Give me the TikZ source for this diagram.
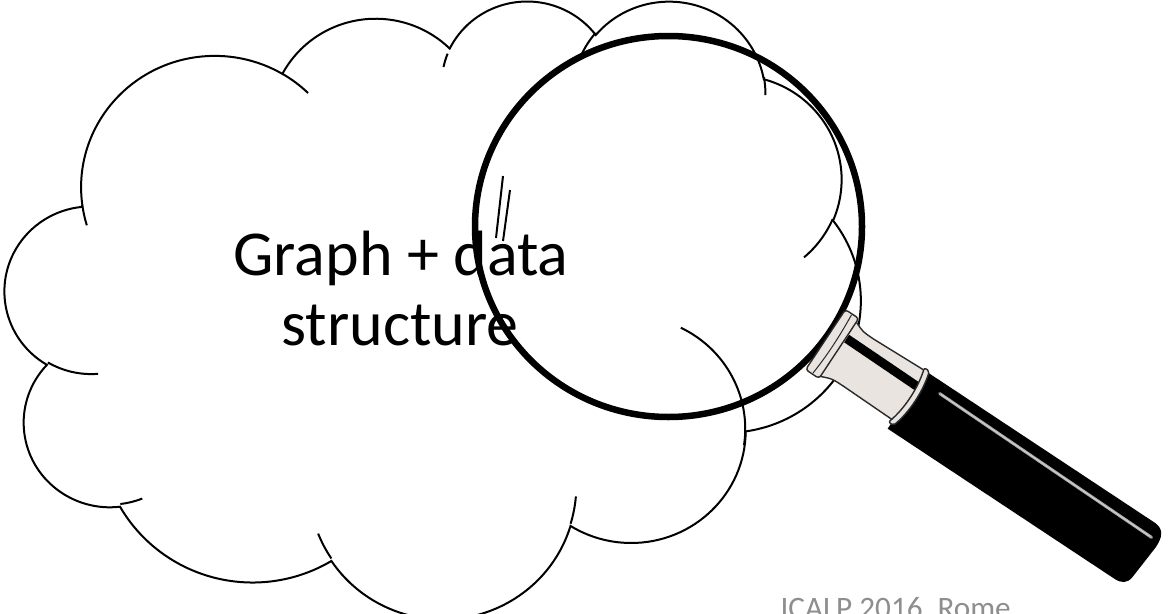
\documentclass[tikz,border=0pt]{standalone}
\usepackage{fontspec}
\setmainfont{Carlito}
\definecolor{ferrulefill}{HTML}{E9E4DF}
\definecolor{ferruleline}{HTML}{2A2A2A}
\definecolor{footergray}{HTML}{8E8E8E}
\definecolor{gripshine}{HTML}{A8A8A8}

% Elliptical arc given by radii, start angle and sweep measured as
% directions from the centre (as in DrawingML); stored as a TikZ arc.
\newcommand\defcloudarc[5]{%
  \pgfmathsetmacro\cldTa{atan2((#2)*sin(#4),(#3)*cos(#4))}%
  \pgfmathsetmacro\cldTb{atan2((#2)*sin((#4)+(#5)),(#3)*cos((#4)+(#5)))}%
  \pgfmathsetmacro\cldTd{mod(\cldTb-\cldTa+720,360)}%
  \expandafter\xdef\csname #1\endcsname{arc[start angle=\cldTa, delta angle=\cldTd, x radius=#2, y radius=#3]}%
}

% outline of the cloud (43.2 x 43.2 units)
\defcloudarc{CloudA}{6.753}{9.190}{-190.4875}{123.7805}
\defcloudarc{CloudB}{5.333}{7.267}{-144.1024}{89.9452}
\defcloudarc{CloudC}{4.365}{5.945}{-145.8079}{99.7230}
\defcloudarc{CloudD}{4.857}{6.595}{-130.9861}{117.2417}
\defcloudarc{CloudE}{5.333}{7.273}{-78.7089}{109.0269}
\defcloudarc{CloudF}{6.775}{9.220}{-46.2673}{130.2690}
\defcloudarc{CloudG}{5.785}{7.867}{0.6250}{114.0333}
\defcloudarc{CloudH}{6.752}{9.215}{22.4516}{115.1726}
\defcloudarc{CloudI}{7.720}{10.543}{66.2426}{75.7110}
\defcloudarc{CloudJ}{4.360}{5.918}{-274.9421}{146.7356}
\defcloudarc{CloudK}{4.345}{5.945}{-246.8285}{152.5189}
% short inner strokes at the joints
\defcloudarc{HintA}{4.345}{5.945}{86.7420}{26.4295}
\defcloudarc{HintB}{4.360}{5.918}{73.6105}{11.4475}
\defcloudarc{HintC}{6.752}{9.215}{137.6242}{14.0811}
\defcloudarc{HintD}{6.752}{9.215}{6.4533}{15.9984}
\defcloudarc{HintE}{5.785}{7.867}{-70.2924}{81.5787}
\defcloudarc{HintF}{5.333}{7.273}{30.3180}{27.7515}
\defcloudarc{HintG}{4.857}{6.595}{-13.7443}{14.8613}
\defcloudarc{HintH}{4.857}{6.595}{-149.1815}{18.1874}
\defcloudarc{HintI}{4.365}{5.945}{-163.4943}{11.9184}
\defcloudarc{HintJ}{6.753}{9.190}{-66.7070}{12.3194}
\defcloudarc{HintK}{6.753}{9.190}{157.6544}{11.8582}

\begin{document}
\begin{tikzpicture}[x=1pt,y=-1pt,
  cloudline/.style={draw=black, line width=2pt},
  ferrule/.style={fill=ferrulefill, draw=ferruleline, line width=1.4pt, line join=round},
  titletext/.style={anchor=base, font=\fontsize{64}{70}\selectfont},
  footertext/.style={anchor=base west, text=footergray, font=\fontsize{31.2}{36}\selectfont}]
\clip (0,0) rectangle (1169,613);
\fill[white] (0,0) rectangle (1169,613);

% cloud
\begin{scope}[shift={(5.1,-0.5)}, xscale=19.8, yscale=14.3]
  \draw[cloudline, line join=miter] (3.9,14.37) \CloudA \CloudB \CloudC \CloudD \CloudE
    \CloudF \CloudG \CloudH \CloudI \CloudJ \CloudK -- cycle;
  \draw[cloudline] (4.693,26.177) \HintA  (6.928,34.899) \HintB
    (16.478,39.090) \HintC (28.827,34.751) \HintD (34.129,22.954) \HintE
    (41.798,15.354) \HintF (38.324,5.426) \HintG (29.078,3.952) \HintH
    (22.141,4.720) \HintI (14.000,5.192) \HintJ (4.127,15.789) \HintK;
\end{scope}

% text in the cloud
\node[titletext] (lineone) at (401,275) {Graph + data};
\node[titletext] (linetwo) at (400,345) {structure};

% lens rim and glint
\draw[line width=6.5pt] (668.5,226.5) ellipse[x radius=193.5, y radius=190.5];
\draw[line width=2pt] (503,176) -- (496,238);
\draw[line width=2pt] (510,190) -- (503,241);

% handle, drawn along its own axis
\begin{scope}[shift={(907,399.5)}, rotate=-33.5]
  % black grip
  \fill[black] (0,-34) -- (276,-34) .. controls (286,-33) and (289,-26) .. (289,-14)
    -- (286,24) .. controls (285,32) and (280,35) .. (272,35) -- (0,35) -- cycle;
  \draw[gripshine, line width=3pt, line cap=round] (24,-23) -- (280,-20);
  \draw[gray!35, line width=0.9pt, line cap=round] (26,-23) -- (278,-20);
  \begin{scope}[yshift=3]
    % metal neck
    \path[ferrule] (-86,-34) .. controls (-74,-29) .. (-60,-29) -- (2,-31)
      -- (2,28) -- (-60,27) .. controls (-74,27) .. (-86,32) -- cycle;
    \fill[black] (-84,-19) -- (2,-18) -- (2,-9) -- (-84,-10) -- cycle;
    % collar against the rim
    \path[ferrule, rounded corners=3pt] (-101,-38) rectangle (-85,34);
    \draw[ferruleline, line width=1pt] (-93,-37) .. controls (-91,-10) and (-91,10) .. (-93,33);
    % band between neck and grip
    \path[ferrule, rounded corners=2pt] (-3,-33) .. controls (3,-12) and (3,12) .. (-3,32)
      -- (3,32) .. controls (9,12) and (9,-12) .. (3,-33) -- cycle;
  \end{scope}
\end{scope}

\node[footertext] (footer) at (777,618) {ICALP 2016, Rome};
\end{tikzpicture}
\end{document}
